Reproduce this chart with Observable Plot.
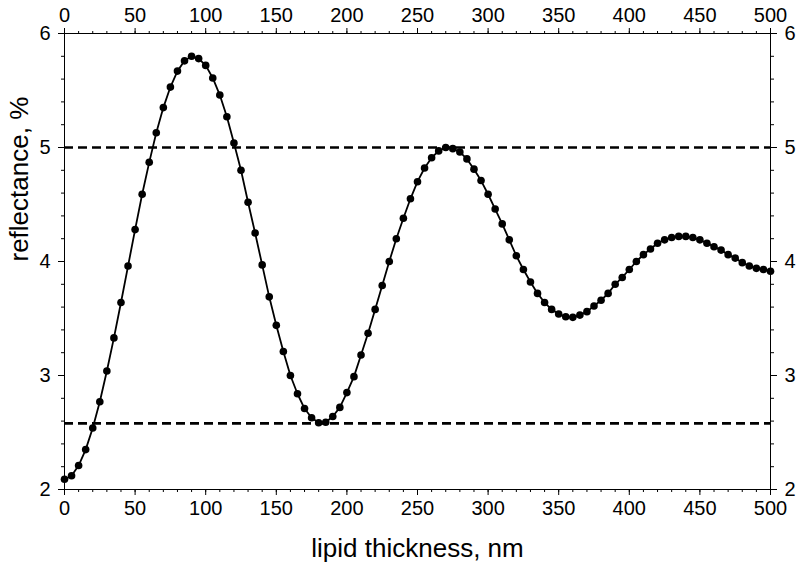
<!DOCTYPE html>
<html>
<head>
<meta charset="utf-8">
<script src="https://cdn.jsdelivr.net/npm/d3@7"></script>
<script src="https://cdn.jsdelivr.net/npm/@observablehq/plot@0.6"></script>
<style>
  html, body { margin: 0; padding: 0; background: #fff; }
  #chart svg { display: block; }
</style>
</head>
<body>
<div id="chart"></div>
<script>
// Data
const thickness = [0,5,10,15,20,25,30,35,40,45,50,55,60,65,70,75,80,85,90,95,
  100,105,110,115,120,125,130,135,140,145,150,155,160,165,170,175,180,185,190,195,
  200,205,210,215,220,225,230,235,240,245,250,255,260,265,270,275,280,285,290,295,
  300,305,310,315,320,325,330,335,340,345,350,355,360,365,370,375,380,385,390,395,
  400,405,410,415,420,425,430,435,440,445,450,455,460,465,470,475,480,485,490,495,500];
const reflectance = [2.09,2.12,2.21,2.35,2.54,2.77,3.04,3.33,3.64,3.96,
  4.28,4.59,4.87,5.13,5.35,5.53,5.67,5.76,5.80,5.78,
  5.72,5.61,5.46,5.27,5.04,4.80,4.52,4.25,3.97,3.69,
  3.44,3.21,3.00,2.84,2.71,2.63,2.585,2.59,2.64,2.72,
  2.85,2.99,3.18,3.37,3.58,3.79,4.00,4.20,4.38,4.55,
  4.70,4.82,4.91,4.97,5.00,4.99,4.96,4.90,4.81,4.71,
  4.59,4.46,4.33,4.19,4.05,3.93,3.82,3.72,3.64,3.58,
  3.54,3.515,3.51,3.53,3.56,3.61,3.66,3.72,3.80,3.86,
  3.93,4.00,4.06,4.11,4.16,4.19,4.21,4.22,4.22,4.21,
  4.19,4.16,4.13,4.10,4.06,4.03,3.99,3.96,3.94,3.93,3.915];
const referenceLevels = [5.0, 2.58];
const xMajorTicks = [0,50,100,150,200,250,300,350,400,450,500];
const xMinorTicks = d3.range(0, 501, 10);
const yMajorTicks = [2,3,4,5,6];
const yMinorTicks = d3.range(2, 6.001, 0.2).map(v => +v.toFixed(1));
const xTitle = "lipid thickness, nm";
const yTitle = "reflectance, %";

const data = thickness.map((t, i) => ({t, r: reflectance[i]}));

const font = "'Liberation Sans', Arial, Helvetica, sans-serif";
const intFmt = d3.format("d");

const chart = Plot.plot({
  width: 800,
  height: 569,
  marginLeft: 64,
  marginRight: 30,
  marginTop: 33,
  marginBottom: 80,
  style: {fontFamily: font, fontSize: "20px", color: "#000", background: "#fff"},
  x: {domain: [0, 500]},
  y: {domain: [2, 6]},
  marks: [
    Plot.ruleY(referenceLevels, {stroke: "#000", strokeWidth: 2.6, strokeDasharray: "9,5"}),
    Plot.line(data, {x: "t", y: "r", stroke: "#000", strokeWidth: 1.8}),
    Plot.dot(data, {x: "t", y: "r", r: 3.8, fill: "#000", stroke: "none"}),
    Plot.frame({stroke: "#000", strokeWidth: 1}),
    // minor ticks
    Plot.axisX(xMinorTicks, {anchor: "bottom", tickSize: 3, tickFormat: () => "", label: null}),
    Plot.axisX(xMinorTicks, {anchor: "top", tickSize: 3, tickFormat: () => "", label: null}),
    Plot.axisY(yMinorTicks, {anchor: "left", tickSize: 3, tickFormat: () => "", label: null}),
    Plot.axisY(yMinorTicks, {anchor: "right", tickSize: 3, tickFormat: () => "", label: null}),
    // major ticks and labels
    Plot.axisX(xMajorTicks, {anchor: "bottom", tickSize: 6, tickPadding: 5, label: null, fontSize: 20, tickFormat: intFmt}),
    Plot.axisX(xMajorTicks, {anchor: "top", tickSize: 6, tickPadding: 6, label: null, fontSize: 20, tickFormat: intFmt}),
    Plot.axisY(yMajorTicks, {anchor: "left", tickSize: 6, tickPadding: 8, label: null, fontSize: 20, tickFormat: intFmt}),
    Plot.axisY(yMajorTicks, {anchor: "right", tickSize: 6, tickPadding: 8, label: null, fontSize: 20, tickFormat: intFmt}),
    // axis titles
    Plot.text([xTitle], {frameAnchor: "bottom", dy: 59, lineAnchor: "middle", fontSize: 26, fill: "#000"}),
    Plot.text([yTitle], {frameAnchor: "left", dx: -45, rotate: -90, lineAnchor: "middle", fontSize: 26, fill: "#000"})
  ]
});
document.getElementById("chart").appendChild(chart);
</script>
</body>
</html>
